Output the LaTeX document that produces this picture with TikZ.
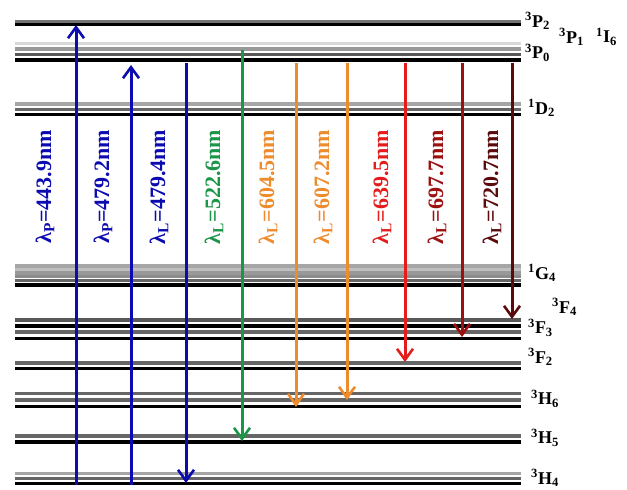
\documentclass[tikz,border=0pt]{standalone}
\usepackage{fontspec}
\setmainfont{Liberation Serif}
\usepackage{xcolor}
\usetikzlibrary{arrows.meta}
\definecolor{pumpblue}{HTML}{0B0BB0}
\definecolor{lgreen}{HTML}{1B9548}
\definecolor{lorange}{HTML}{EE8B2C}
\definecolor{lred}{HTML}{E51C1C}
\definecolor{ldred}{HTML}{9C1010}
\definecolor{lbrown}{HTML}{5A0A0A}
\tikzset{
  lvl/.style={line width=3.1pt},
  tr/.style={-{Straight Barb[length=11pt,width=16pt,line width=2.6pt]}, line width=3pt},
  wl/.style={rotate=90, inner sep=0pt, font=\bfseries\fontsize{22}{22}\selectfont},
  term/.style={anchor=west, inner sep=0pt, font=\bfseries\fontsize{18}{18}\selectfont}
}
\newcommand{\Term}[3]{\textsuperscript{#1}#2\textsubscript{#3}}
\newcommand{\Lam}[2]{λ\textsubscript{#1}=#2nm}

\begin{document}
\begin{tikzpicture}[x=1pt,y=-1pt]
  \useasboundingbox (0,0) rectangle (627,490);
  % energy levels (each a bundle of Stark lines)
  \foreach \y/\c in {21.5/black!55, 24.5/black,
                     43.5/black!15, 49/black!40, 54.5/black!65, 60/black,
                     104/black!35, 109.5/black!60, 114.5/black,
                     266/black!35, 269.5/black!25, 273/black!40, 276.5/black!45, 280.5/black!60, 285/black,
                     320/black!65, 326/black, 332/black!60, 338.5/black,
                     363/black!60, 368.5/black,
                     393.5/black!60, 400/black!60, 406.5/black,
                     436/black!60, 442/black,
                     473.5/black!35, 478.5/black!60, 483.5/black}
    \draw[lvl,draw=\c] (15,\y) -- (521,\y);
  % level heights used by the transitions
  \coordinate (P2) at (0,25);
  \coordinate (P0) at (0,63);
  \coordinate (P0m) at (0,50);
  \coordinate (P0t) at (0,65);
  \coordinate (F4) at (0,319);
  \coordinate (F3) at (0,337);
  \coordinate (F2) at (0,362);
  \coordinate (H6m) at (0,400);
  \coordinate (H6) at (0,407);
  \coordinate (H5) at (0,441);
  \coordinate (H4) at (0,483);
  \coordinate (H4b) at (0,485);
  % columns
  \foreach \n/\x in {1/76,2/131,3/186,4/242,5/296,6/347,7/405,8/462,9/512}
    \coordinate (c\n) at (\x,0);
  % transitions
  \draw[tr,pumpblue] (c1 |- H4b) -- (c1 |- P2);
  \draw[tr,pumpblue] (c2 |- H4b) -- (c2 |- P0t);
  \draw[tr,pumpblue] (c3 |- P0) -- (c3 |- H4);
  \draw[tr,lgreen] (c4 |- P0m) -- (c4 |- H5);
  \draw[tr,lorange] (c5 |- P0) -- (c5 |- H6);
  \draw[tr,lorange] (c6 |- P0) -- (c6 |- H6m);
  \draw[tr,lred] (c7 |- P0) -- (c7 |- F2);
  \draw[tr,ldred] (c8 |- P0) -- (c8 |- F3);
  \draw[tr,lbrown] (c9 |- P0) -- (c9 |- F4);
  % wavelengths
  \node[wl,text=pumpblue] (w1) at (45,187) {\Lam{P}{443.9}};
  \node[wl,text=pumpblue] (w2) at (103,187) {\Lam{P}{479.2}};
  \node[wl,text=pumpblue] (w3) at (159,187) {\Lam{L}{479.4}};
  \node[wl,text=lgreen] (w4) at (214,187) {\Lam{L}{522.6}};
  \node[wl,text=lorange] (w5) at (268,187) {\Lam{L}{604.5}};
  \node[wl,text=lorange] (w6) at (323,187) {\Lam{L}{607.2}};
  \node[wl,text=lred] (w7) at (382,187) {\Lam{L}{639.5}};
  \node[wl,text=ldred] (w8) at (437,187) {\Lam{L}{697.7}};
  \node[wl,text=lbrown] (w9) at (492,187) {\Lam{L}{720.7}};
  % term symbols
  \node[term] (tP2) at (525,21) {\Term{3}{P}{2}};
  \node[term] (tP1) at (559,37) {\Term{3}{P}{1}};
  \node[term] (tI6) at (596,37) {\Term{1}{I}{6}};
  \node[term] (tP0) at (525,53) {\Term{3}{P}{0}};
  \node[term] (tD2) at (528,108) {\Term{1}{D}{2}};
  \node[term] (tG4) at (528,273) {\Term{1}{G}{4}};
  \node[term] (tF4) at (552,307) {\Term{3}{F}{4}};
  \node[term] (tF3) at (528,328) {\Term{3}{F}{3}};
  \node[term] (tF2) at (528,357) {\Term{3}{F}{2}};
  \node[term] (tH6) at (531,399) {\Term{3}{H}{6}};
  \node[term] (tH5) at (531,438) {\Term{3}{H}{5}};
  \node[term] (tH4) at (531,478) {\Term{3}{H}{4}};
\end{tikzpicture}
\end{document}
